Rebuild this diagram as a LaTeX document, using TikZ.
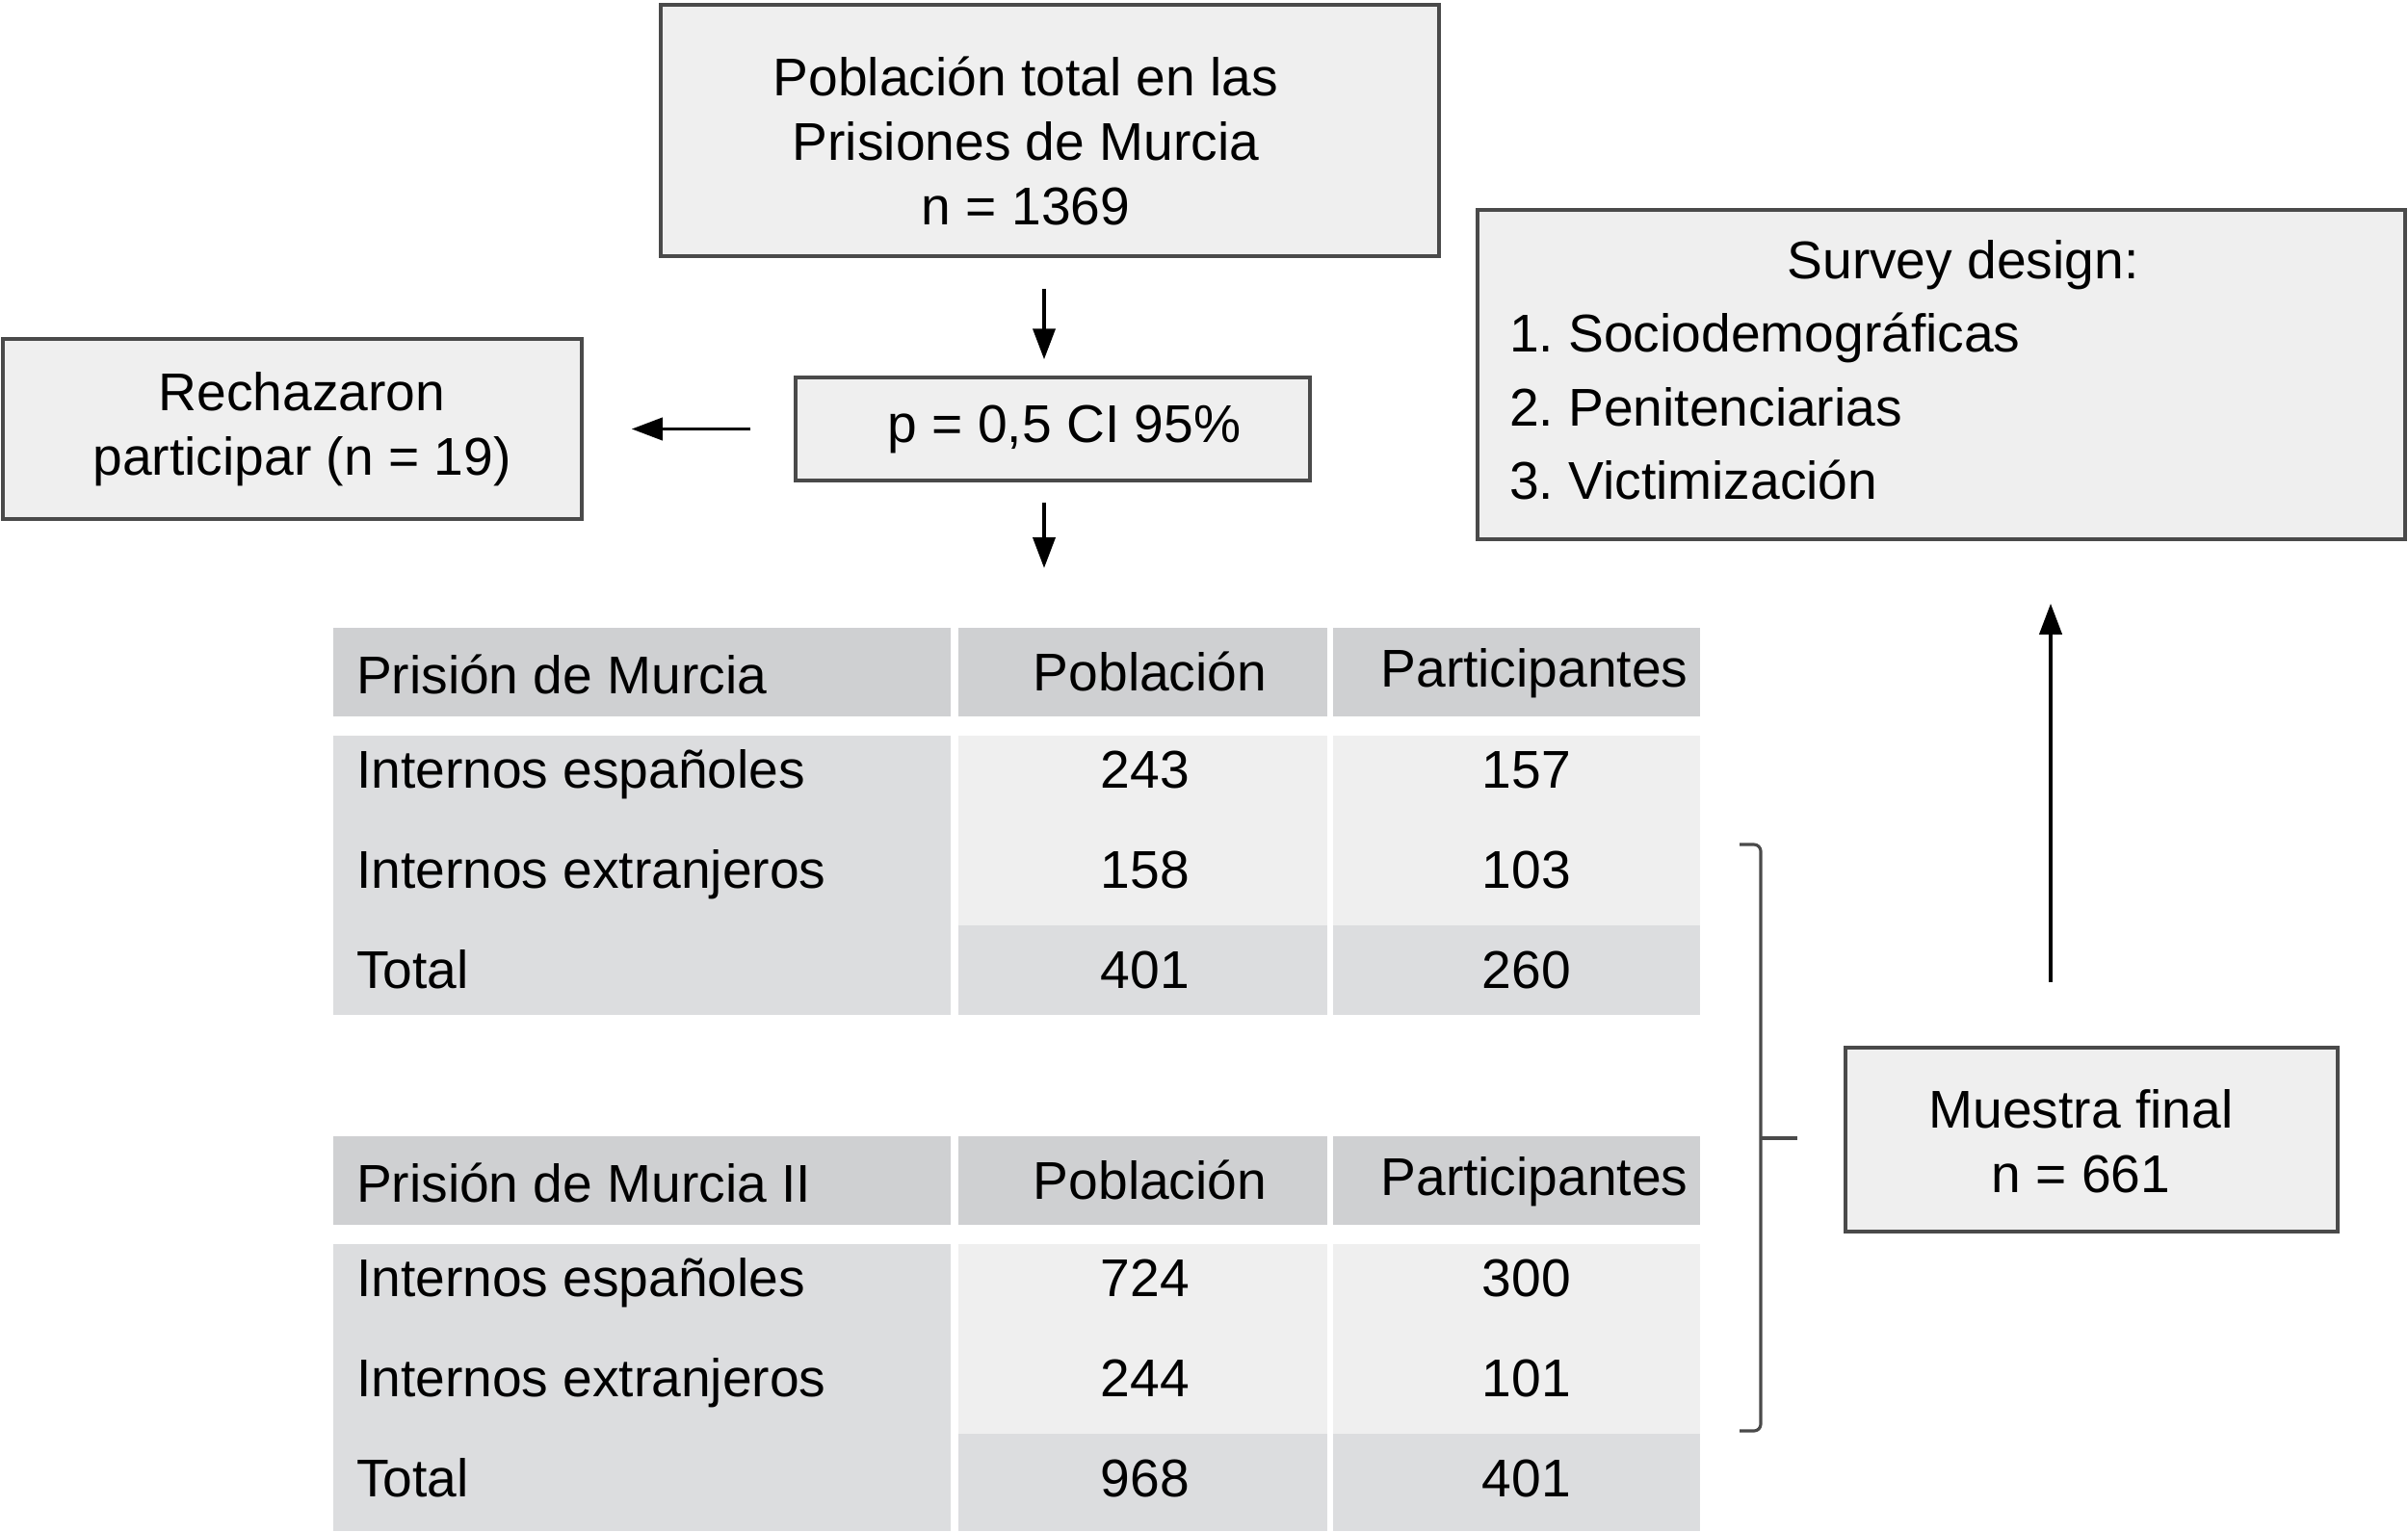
\documentclass[tikz,border=0pt]{standalone}
\usepackage{fontspec}
\setmainfont{Liberation Sans}
\usetikzlibrary{arrows.meta,positioning,calc}
\definecolor{boxfill}{HTML}{EFEFEF}
\definecolor{hdrgray}{HTML}{CFD0D2}
\definecolor{rowgray}{HTML}{DCDDDF}
\definecolor{rowlight}{HTML}{EFEFEF}
\definecolor{linegray}{HTML}{4A4A4A}
\tikzstyle{box}  =[draw=linegray, fill=boxfill, line width=1pt,
                   inner sep=0pt]
\tikzstyle{txt}  =[inner sep=0pt, outer sep=0pt, align=center]
\tikzstyle{edge} =[-{Triangle[length=0.32cm,width=0.23cm]},
                   line width=1.1pt]
\tikzstyle{brace}=[draw=linegray, line width=0.9pt, rounded corners=2pt]
\frenchspacing

\begin{document}
\begin{tikzpicture}[x=1cm, y=1cm, font=\fontsize{15.7}{19}\selectfont]
    \useasboundingbox (0,0) rectangle (25,-15.9);

    % cajas
    \node[box, minimum width=8.08cm, minimum height=2.61cm] (pobl) at (10.90,-1.355) {};
    \node[box, minimum width=5.34cm, minimum height=1.07cm] (pval) at (10.93,-4.455) {};
    \node[box, minimum width=6.01cm, minimum height=1.87cm] (rech) at (3.035,-4.455) {};
    \node[box, minimum width=9.63cm, minimum height=3.42cm] (survey) at (20.155,-3.89) {};
    \node[box, minimum width=5.11cm, minimum height=1.91cm] (muestra) at (21.715,-11.835) {};

    \node[txt] (poblT) at ([xshift=-0.25cm, yshift=-0.11cm]pobl.center)
        {Población total en las\\Prisiones de Murcia\\n = 1369};
    \node[txt] (pvalT) at ([xshift=0.12cm]pval.center) {p = 0,5 CI 95\%};
    \node[txt] (rechT) at ([xshift=0.10cm]rech.center) {Rechazaron\\participar (n = 19)};
    \node[txt] (muestraT) at ([xshift=-0.11cm, yshift=-0.02cm]muestra.center) {Muestra final\\n = 661};

    \node[txt, anchor=base] (sd) at (20.38,-2.89) {Survey design:};
    \node[txt, anchor=base west] (sd1) at (15.67,-3.65) {1. Sociodemográficas};
    \node[txt, anchor=base west] (sd2) at (15.67,-4.42) {2. Penitenciarias};
    \node[txt, anchor=base west] (sd3) at (15.67,-5.18) {3. Victimización};

    % tablas
    \foreach \t/\dy/\bot/\ttl/\popa/\popb/\popc/\parta/\partb/\partc in
        {1/0/10.54/{Prisión de Murcia}/243/158/401/157/103/260,
         2/5.28/10.62/{Prisión de Murcia II}/724/244/968/300/101/401}{
        \begin{scope}[yshift=-\dy cm]
            \fill[hdrgray] (3.46,-6.52) rectangle (9.87,-7.44);
            \fill[hdrgray] (9.95,-6.52) rectangle (13.78,-7.44);
            \fill[hdrgray] (13.84,-6.52) rectangle (17.65,-7.44);
            \fill[rowgray] (3.46,-7.64) rectangle (9.87,-\bot);
            \fill[rowlight] (9.95,-7.64) rectangle (13.78,-9.61);
            \fill[rowlight] (13.84,-7.64) rectangle (17.65,-9.61);
            \fill[rowgray] (9.95,-9.61) rectangle (13.78,-\bot);
            \fill[rowgray] (13.84,-9.61) rectangle (17.65,-\bot);

            \node[txt, anchor=base west] (t\t-ttl) at (3.70,-7.20) {\ttl};
            \node[txt, anchor=base] (t\t-pob) at (11.94,-7.17) {Población};
            \node[txt, anchor=base] (t\t-par) at (15.93,-7.13) {Participantes};
            \foreach \r/\lab/\p/\q/\y in {1/{Internos españoles}/\popa/\parta/8.18,
                                         2/{Internos extranjeros}/\popb/\partb/9.22,
                                         3/Total/\popc/\partc/10.26}{
                \node[txt, anchor=base west] (t\t-l\r) at (3.70,-\y) {\lab};
                \node[txt, anchor=base] (t\t-p\r) at (11.89,-\y) {\p};
                \node[txt, anchor=base] (t\t-q\r) at (15.85,-\y) {\q};
            }
        \end{scope}
    }

    % flechas
    \coordinate (tbl) at (10.84,-5.90);
    \coordinate (up0) at (21.29,-10.20);
    \draw[edge, shorten <=0.32cm, shorten >=0.17cm]
        ([xshift=-0.06cm]pobl.south) -- ([xshift=-0.09cm]pval.north);
    \draw[edge, shorten <=0.21cm] ([xshift=-0.09cm]pval.south) -- (tbl);
    \draw[edge, shorten <=0.45cm, shorten >=0.50cm] (pval.west) -- (rech.east);
    \draw[edge, shorten >=0.65cm] (up0) -- (up0 |- survey.south);

    % llave
    \coordinate (brT) at (18.06,-8.77);
    \coordinate (brM) at (18.28,-11.82);
    \draw[brace] (brT) -- ++(0.22,0) -- ++(0,-6.09) -- ++(-0.22,0);
    \draw[brace, shorten >=0.48cm] (brM) -- (brM -| muestra.west);
\end{tikzpicture}
\end{document}
